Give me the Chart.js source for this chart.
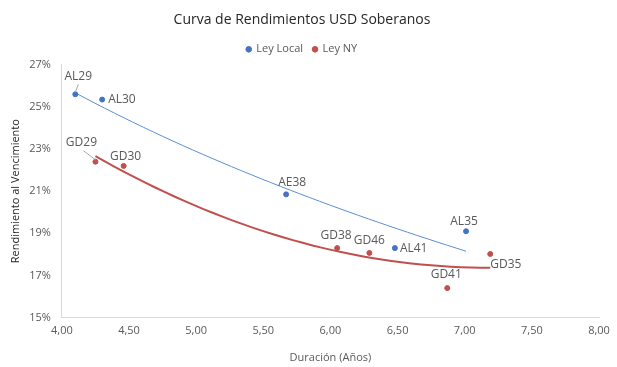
<!DOCTYPE html>
<html>
<head>
<meta charset="utf-8">
<script src="https://cdn.jsdelivr.net/npm/chart.js@4"></script>
<style>
  html, body { margin: 0; padding: 0; background: #fff; }
  #wrap { width: 617px; height: 367px; }
</style>
</head>
<body>
<div id="wrap"><canvas id="chart"></canvas></div>
<script>
// Ley Local (AL / AE)
const localNames = ['AL29', 'AL30', 'AE38', 'AL41', 'AL35'];
const localDur = [4.10, 4.30, 5.67, 6.48, 7.01];
const localYield = [25.6, 25.35, 20.85, 18.3, 19.1];

// Ley NY (GD)
const nyNames = ['GD29', 'GD30', 'GD38', 'GD46', 'GD41', 'GD35'];
const nyDur = [4.25, 4.46, 6.05, 6.29, 6.87, 7.19];
const nyYield = [22.4, 22.2, 18.3, 18.07, 16.4, 18.02];

const yTicks = [15, 17, 19, 21, 23, 25, 27];
const xTicks = [4, 4.5, 5, 5.5, 6, 6.5, 7, 7.5, 8];

const blue = '#4472C4';
const red = '#C0504D';
const font = "'Open Sans', 'Liberation Sans', sans-serif";

// where each label goes relative to its point
const labelPlace = {
  AL29: { dx: 3, dy: -18, align: 'center', leader: true },
  AL30: { dx: 6, dy: 0, align: 'left' },
  AE38: { dx: 6, dy: -12, align: 'center' },
  AL41: { dx: 5, dy: 0, align: 'left' },
  AL35: { dx: -2, dy: -10, align: 'center' },
  GD29: { dx: -14, dy: -19, align: 'center', leader: true },
  GD30: { dx: 2, dy: -9, align: 'center' },
  GD38: { dx: -1, dy: -13, align: 'center' },
  GD46: { dx: 0, dy: -12, align: 'center' },
  GD41: { dx: -1, dy: -14, align: 'center' },
  GD35: { dx: 0, dy: 11, align: 'left' }
};

// least squares trendlines from the data (log for local, quadratic for NY)
function solve(A, b) {
  const n = b.length;
  for (let i = 0; i < n; i++) {
    let p = i;
    for (let r = i + 1; r < n; r++) if (Math.abs(A[r][i]) > Math.abs(A[p][i])) p = r;
    [A[i], A[p]] = [A[p], A[i]]; [b[i], b[p]] = [b[p], b[i]];
    for (let r = i + 1; r < n; r++) {
      const f = A[r][i] / A[i][i];
      for (let c = i; c < n; c++) A[r][c] -= f * A[i][c];
      b[r] -= f * b[i];
    }
  }
  const x = new Array(n).fill(0);
  for (let i = n - 1; i >= 0; i--) {
    let s = b[i];
    for (let c = i + 1; c < n; c++) s -= A[i][c] * x[c];
    x[i] = s / A[i][i];
  }
  return x;
}
function fit(xs, ys, basis) {
  const k = basis(xs[0]).length;
  const A = Array.from({ length: k }, () => new Array(k).fill(0));
  const b = new Array(k).fill(0);
  xs.forEach((x, i) => {
    const f = basis(x);
    for (let r = 0; r < k; r++) {
      b[r] += f[r] * ys[i];
      for (let c = 0; c < k; c++) A[r][c] += f[r] * f[c];
    }
  });
  const coef = solve(A, b);
  return x => basis(x).reduce((s, v, i) => s + v * coef[i], 0);
}
function trend(xs, ys, basis) {
  const f = fit(xs, ys, basis);
  const lo = Math.min(...xs), hi = Math.max(...xs);
  const pts = [];
  for (let i = 0; i <= 40; i++) {
    const x = lo + (hi - lo) * i / 40;
    pts.push({ x: x, y: f(x) });
  }
  return pts;
}

const localPts = localDur.map((d, i) => ({ x: d, y: localYield[i], name: localNames[i] }));
const nyPts = nyDur.map((d, i) => ({ x: d, y: nyYield[i], name: nyNames[i] }));

const pointLabels = {
  id: 'pointLabels',
  afterDatasetsDraw(chart) {
    const ctx = chart.ctx;
    ctx.save();
    ctx.font = '12px ' + font;
    ctx.fillStyle = '#595959';
    ctx.textBaseline = 'middle';
    [0, 1].forEach(di => {
      const meta = chart.getDatasetMeta(di);
      meta.data.forEach((el, i) => {
        const name = chart.data.datasets[di].data[i].name;
        const p = labelPlace[name];
        const tx = el.x + p.dx, ty = el.y + p.dy;
        ctx.textAlign = p.align;
        ctx.fillText(name, tx, ty);
        if (p.leader) {
          ctx.strokeStyle = '#A6A6A6';
          ctx.lineWidth = 1;
          ctx.beginPath();
          ctx.moveTo(el.x, el.y - 2);
          ctx.lineTo(tx + (p.dx < -5 ? 2 : 0), ty + 8);
          ctx.stroke();
        }
      });
    });
    ctx.restore();
  }
};

new Chart(document.getElementById('chart'), {
  type: 'scatter',
  data: {
    datasets: [
      { label: 'Ley Local', data: localPts, backgroundColor: blue, borderColor: blue, pointRadius: 2.5, pointHoverRadius: 3 },
      { label: 'Ley NY', data: nyPts, backgroundColor: red, borderColor: red, pointRadius: 2.5, pointHoverRadius: 3 },
      { label: 'trend local', data: trend(localDur, localYield, x => [1, Math.log(x)]), showLine: true, pointRadius: 0, borderColor: '#5B8FD0', borderWidth: 1, tension: 0 },
      { label: 'trend ny', data: trend(nyDur, nyYield, x => [1, x, x * x]), showLine: true, pointRadius: 0, borderColor: red, borderWidth: 2, tension: 0 }
    ]
  },
  options: {
    responsive: true,
    maintainAspectRatio: false,
    animation: false,
    layout: { padding: { left: 5, right: 18, top: 7, bottom: 1 } },
    plugins: {
      title: {
        display: true,
        text: 'Curva de Rendimientos USD Soberanos',
        color: '#262626',
        font: { family: font, size: 14, weight: 'normal' },
        padding: { top: 5, bottom: 5 }
      },
      legend: {
        labels: {
          filter: item => item.datasetIndex < 2,
          usePointStyle: true,
          pointStyle: 'circle',
          boxWidth: 4,
          boxHeight: 4,
          color: '#595959',
          font: { family: font, size: 11 }
        }
      },
      tooltip: { enabled: false }
    },
    scales: {
      x: {
        type: 'linear',
        min: 4,
        max: 8,
        afterBuildTicks: axis => { axis.ticks = xTicks.map(v => ({ value: v })); },
        ticks: {
          color: '#595959',
          font: { family: font, size: 11 },
          callback: v => v.toFixed(2).replace('.', ',')
        },
        grid: { display: false, drawTicks: true, tickLength: 4 },
        border: { color: '#D9D9D9' },
        title: {
          display: true,
          text: 'Duración (Años)',
          color: '#595959',
          font: { family: font, size: 11 },
          padding: { top: 10, bottom: 2 }
        }
      },
      y: {
        min: 15,
        max: 27,
        afterBuildTicks: axis => { axis.ticks = yTicks.map(v => ({ value: v })); },
        ticks: {
          color: '#595959',
          font: { family: font, size: 11 },
          callback: v => v + '%'
        },
        grid: { display: false },
        border: { color: '#D9D9D9' },
        title: {
          display: true,
          text: 'Rendimiento al Vencimiento',
          color: '#262626',
          font: { family: font, size: 11 },
          padding: { bottom: 4 }
        }
      }
    }
  },
  plugins: [pointLabels]
});
</script>
</body>
</html>
